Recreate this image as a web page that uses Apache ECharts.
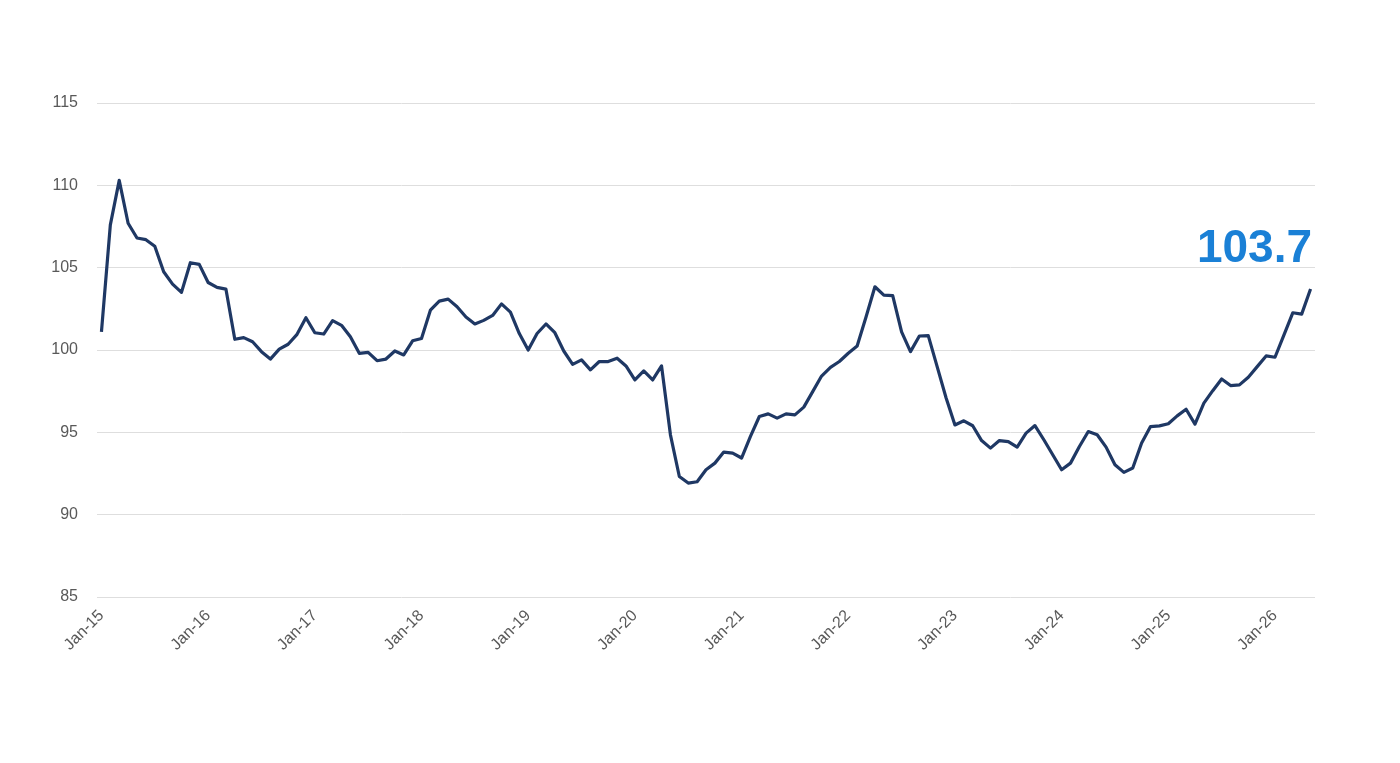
<!DOCTYPE html>
<html>
<head>
<meta charset="utf-8">
<script src="https://cdn.jsdelivr.net/npm/echarts@6/dist/echarts.min.js"></script>
<style>
html,body{margin:0;padding:0;background:#fff;}
#chart{width:1400px;height:763px;}
</style>
</head>
<body>
<div id="chart"></div>
<script>
// Monthly index, Jan-15 .. May-26
const monthNames = ['Jan','Feb','Mar','Apr','May','Jun','Jul','Aug','Sep','Oct','Nov','Dec'];
const startYear = 15;
const values = [
  101.1, 107.6, 110.3, 107.7, 106.8, 106.7, 106.3, 104.75, 104.0, 103.5, 105.3, 105.2,
  104.1, 103.8, 103.7, 100.65, 100.75, 100.5, 99.9, 99.45, 100.05, 100.35, 100.95, 101.96,
  101.05, 100.97, 101.78, 101.5, 100.8, 99.8, 99.86, 99.35, 99.45, 99.94, 99.7, 100.56,
  100.7, 102.42, 102.97, 103.09, 102.63, 102.0, 101.58, 101.8, 102.1, 102.8, 102.3, 101.0,
  100.0, 101.0, 101.58, 101.05, 99.94, 99.13, 99.4, 98.79, 99.3, 99.3, 99.5, 99.03,
  98.18, 98.73, 98.18, 99.03, 94.85, 92.32, 91.92, 92.0, 92.73, 93.13, 93.8, 93.74,
  93.44, 94.75, 95.96, 96.12, 95.86, 96.12, 96.06, 96.53, 97.47, 98.42, 98.95, 99.3,
  99.8, 100.24, 102.0, 103.84, 103.33, 103.3, 101.1, 99.9, 100.85, 100.87, 98.99, 97.1,
  95.45, 95.7, 95.4, 94.5, 94.04, 94.5, 94.44, 94.1, 94.95, 95.41, 94.55, 93.64,
  92.73, 93.13, 94.14, 95.05, 94.85, 94.1, 93.03, 92.57, 92.83, 94.35, 95.35, 95.39,
  95.52, 96.0, 96.4, 95.5, 96.77, 97.53, 98.24, 97.84, 97.88, 98.35, 98.99, 99.64,
  99.56, 100.9, 102.26, 102.18, 103.7
];
const categories = values.map((v, i) => monthNames[i % 12] + '-' + (startYear + Math.floor(i / 12)));
const yMin = 85, yMax = 115, yStep = 5;
const lastLabel = values[values.length - 1].toFixed(1);

const chart = echarts.init(document.getElementById('chart'), null, {renderer: 'canvas'});
chart.setOption({
  backgroundColor: '#ffffff',
  animation: false,
  grid: {left: 97, right: 85, top: 103, bottom: 166, containLabel: false},
  xAxis: {
    type: 'category',
    data: categories,
    boundaryGap: true,
    axisLine: {show: false},
    axisTick: {show: false},
    splitLine: {show: false},
    axisLabel: {
      interval: 11,
      rotate: 45,
      margin: 16,
      color: '#595959',
      fontSize: 16,
      fontFamily: 'Liberation Sans, Arial, sans-serif'
    }
  },
  yAxis: {
    type: 'value',
    min: yMin, max: yMax, interval: yStep,
    axisLine: {show: false},
    axisTick: {show: false},
    splitLine: {lineStyle: {color: '#dedede', width: 1}},
    axisLabel: {
      margin: 19,
      color: '#595959',
      fontSize: 16,
      fontFamily: 'Liberation Sans, Arial, sans-serif'
    }
  },
  series: [{
    type: 'line',
    data: values,
    symbol: 'none',
    smooth: false,
    lineStyle: {color: '#1f3864', width: 3.2, join: 'round'}
  }],
  graphic: [{
    type: 'text',
    right: 88,
    top: 226,
    style: {
      text: lastLabel,
      fill: '#1a80d6',
      font: 'bold 46px "Liberation Sans", Arial, sans-serif'
    }
  }]
});
</script>
</body>
</html>
